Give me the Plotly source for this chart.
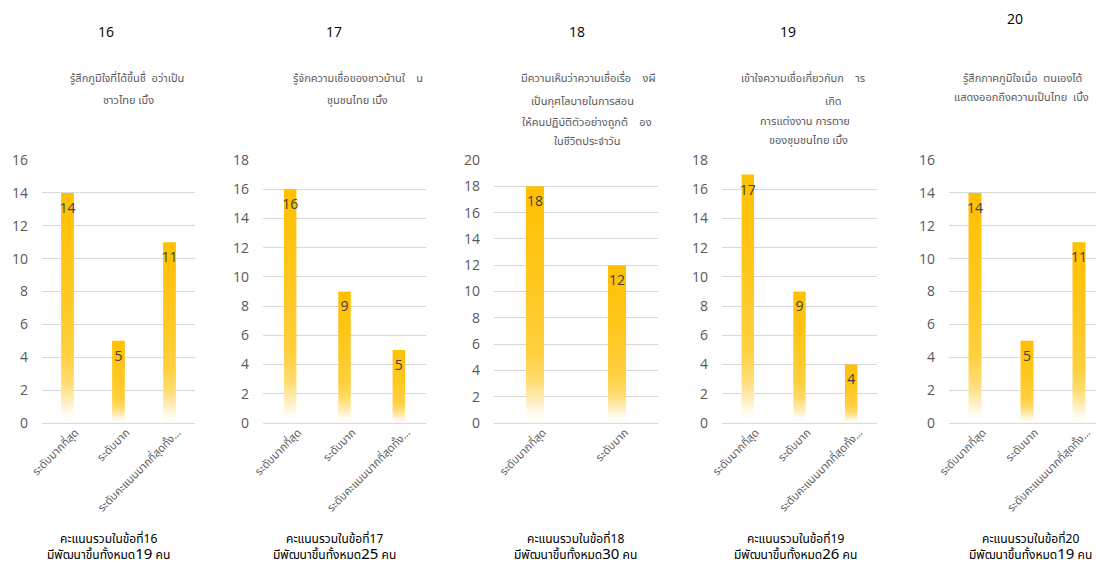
import plotly.graph_objects as go

W, H = 1096, 563

# ---- data ----
item_numbers = ["16", "17", "18", "19", "20"]
titles = [
    ["รู้สึกภูมิใจที่ได้ขึ้นชื่  อว่าเป็น", "ชาวไทย เบิ้ง"],
    ["รู้จักความเชื่อของชาวบ้านใ    น", "ชุมชนไทย เบิ้ง"],
    ["มีความเห็นว่าความเชื่อเรื่อ    งผี", "เป็นกุศโลบายในการสอน", "ให้คนปฏิบัติตัวอย่างถูกต้    อง", "ในชีวิตประจำวัน"],
    ["เข้าใจความเชื่อเกี่ยวกับก    าร", "เกิด", "การแต่งงาน การตาย", "ของชุมชนไทย เบิ้ง"],
    ["รู้สึกภาคภูมิใจเมื่อ  ตนเองได้", "แสดงออกถึงความเป็นไทย  เบิ้ง"],
]
cats3 = ["ระดับมากที่สุด", "ระดับมาก", "ระดับคะแนนมากที่สุดทั้ง…"]
cats2 = ["ระดับมากที่สุด", "ระดับมาก"]
categories = [cats3, cats3, cats2, cats3, cats3]
values_16 = [14, 5, 11]
values_17 = [16, 9, 5]
values_18 = [18, 12]
values_19 = [17, 9, 4]
values_20 = [14, 5, 11]
values = [values_16, values_17, values_18, values_19, values_20]
y_max = [16, 18, 20, 18, 16]
totals = [19, 25, 30, 26, 19]

# ---- layout geometry (pixels) ----
x_left = [42, 263, 494, 722, 949]
x_right = [195, 426, 658, 877, 1096]
x_range_max = [2.5, 2.5, 1.5, 2.5, -0.5 + (1096 - 949) / 52]
bar_w = [0.25, 0.23, 0.22, 0.24, 0.25]
y_top_px, y_zero_px = 160, 423

num_pos = [(106, 31), (334, 31), (577, 31), (788, 31), (1015, 18)]
title_x = [[127, 128], [358, 357], [588, 582, 587, 587], [803, 833, 805, 808], [1022, 1021]]
title_y = [[78, 100], [78, 100], [79, 102, 122, 141], [79, 102, 121, 140], [79, 98]]
foot_x = [108, 334, 575, 795, 1030]

GOLD = "#FFC000"
colorscale = [[0, "#FFFFFF"], [0.04, "#FFFBF0"], [0.1, "#FFEDB8"], [0.18, "#FFDC70"],
              [0.3, "#FFD03F"], [0.55, "#FFC823"], [1, GOLD]]

THAI = "Noto Sans Thai, Tahoma, Noto Sans, sans-serif"
NUM = "Open Sans, Noto Sans, sans-serif"

fig = go.Figure()
annotations = []
layout_axes = {}


def px_x(p):
    return p / W


def px_y(p):
    return 1 - p / H


for k in range(5):
    xa = "x" if k == 0 else f"x{k+1}"
    ya = "y" if k == 0 else f"y{k+1}"
    cats = categories[k]
    vals = values[k]
    w = bar_w[k]
    for i, v in enumerate(vals):
        fig.add_trace(go.Scatter(
            x=[i - w / 2, i + w / 2, i + w / 2, i - w / 2, i - w / 2],
            y=[0, 0, v, v, 0],
            mode="lines", line=dict(width=0), fill="toself",
            fillgradient=dict(type="vertical", colorscale=colorscale),
            hoverinfo="skip", showlegend=False, xaxis=xa, yaxis=ya,
        ))
    fig.add_trace(go.Scatter(
        x=list(range(len(vals))), y=[v - 1.0 * y_max[k] / 16 for v in vals],
        mode="text", text=[str(v) for v in vals],
        textfont=dict(family=NUM, size=14, color="#404040"),
        textposition="middle center", showlegend=False, hoverinfo="skip",
        xaxis=xa, yaxis=ya,
    ))
    layout_axes["xaxis" if k == 0 else f"xaxis{k+1}"] = dict(
        domain=[px_x(x_left[k]), px_x(x_right[k])],
        range=[-0.5, x_range_max[k]], anchor=ya,
        tickmode="array", tickvals=list(range(len(cats))), ticktext=cats,
        tickangle=-45, tickfont=dict(family=THAI, size=11, color="#595959"),
        ticklabelshift=8,
        showgrid=False, zeroline=False, showline=False, ticks="",
        automargin=False, fixedrange=True,
    )
    layout_axes["yaxis" if k == 0 else f"yaxis{k+1}"] = dict(
        domain=[px_y(y_zero_px), px_y(y_top_px)],
        range=[0, y_max[k]], dtick=2, anchor=xa,
        tickfont=dict(family=NUM, size=14, color="#595959"),
        showgrid=True, gridcolor="#D9D9D9", gridwidth=1,
        zeroline=True, zerolinecolor="#D9D9D9", zerolinewidth=1,
        showline=False, ticks="", ticklabelstandoff=13,
        automargin=False, fixedrange=True,
    )
    # item number
    annotations.append(dict(
        x=px_x(num_pos[k][0]), y=px_y(num_pos[k][1]), xref="paper", yref="paper",
        text=item_numbers[k], showarrow=False, xanchor="center", yanchor="middle",
        font=dict(family=NUM, size=14, color="#000000"),
    ))
    # Thai title lines
    for line, tx, ty in zip(titles[k], title_x[k], title_y[k]):
        annotations.append(dict(
            x=px_x(tx), y=px_y(ty), xref="paper", yref="paper", text=line,
            showarrow=False, xanchor="center", yanchor="middle",
            font=dict(family=THAI, size=11, color="#595959"),
        ))
    # footer (two lines in one text)
    annotations.append(dict(
        x=px_x(foot_x[k]), y=px_y(548), xref="paper", yref="paper",
        text=(f"คะแนนรวมในข้อที่{item_numbers[k]}<br>"
              f"มีพัฒนาขึ้นทั้งหมด<span style='font-size:15px'>{totals[k]}</span> คน"),
        showarrow=False, xanchor="center", yanchor="middle", align="center",
        borderpad=0, font=dict(family=THAI, size=12, color="#000000"),
    ))

fig.update_layout(
    width=W, height=H, margin=dict(l=0, r=0, t=0, b=0, autoexpand=False),
    paper_bgcolor="white", plot_bgcolor="white",
    annotations=annotations, showlegend=False, **layout_axes,
)

fig.write_html("out.html", config={"displayModeBar": False})
